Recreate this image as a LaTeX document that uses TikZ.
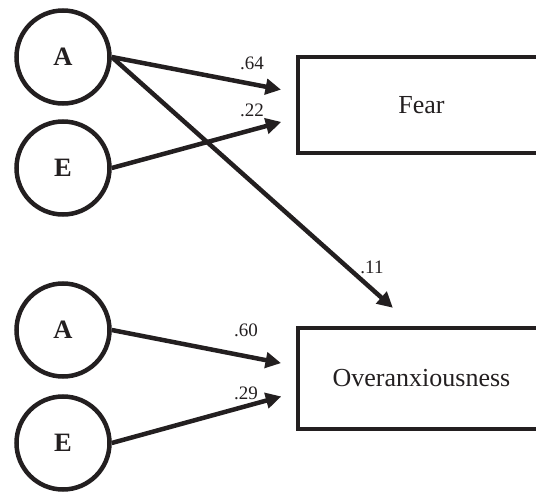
\documentclass[tikz,border=0pt]{standalone}
\usepackage{fontspec}
\setmainfont{Liberation Serif}
\usetikzlibrary{arrows.meta, calc}
\definecolor{ink}{HTML}{231F20}

\begin{document}
\begin{tikzpicture}[x=0.4pt, y=-0.4pt, line width=1.8pt, draw=ink, text=ink,
    latent/.style={draw, circle, minimum size=37.2pt, inner sep=0pt,
      font=\fontsize{10.6}{12}\selectfont\bfseries},
    outcome/.style={draw, rectangle, minimum width=98.8pt, inner sep=0pt,
      font=\fontsize{10.4}{12}\selectfont},
    effect/.style={-{Triangle[length=6.2pt, width=6.2pt]}, ink, shorten >=6pt},
    coef/.style={inner sep=0pt, font=\fontsize{7.6}{8}\selectfont}]
        \useasboundingbox (0,0) rectangle (536,494);
        \clip (0,0) rectangle (536,494);

        % Factors
        \node[latent] (a1) at (63,57) {A};
        \node[latent] (e1) at (63,168) {E};
        \node[latent] (a2) at (63,330) {A};
        \node[latent] (e2) at (63,443) {E};

        % Outcomes
        \node[outcome, minimum height=38.4pt] (fear) at (421.5,105) {Fear};
        \node[outcome, minimum height=40.4pt] (over) at (421.5,378.5) {Overanxiousness};

        % Paths
        \draw[effect] (a1.east) -- ($(fear.west)+(0,-12.5)$);
        \draw[effect] (e1.east) -- ($(fear.west)+(0,13)$);
        \draw[effect, shorten >=10.8pt] (a1.east) -- ($(over.north)+(-8.5,0)$);
        \draw[effect] (a2.east) -- ($(over.west)+(0,-12.5)$);
        \draw[effect] (e2.east) -- ($(over.west)+(0,14)$);

        % Coefficients
        \node[coef] (c64) at (252,63) {.64};
        \node[coef] (c22) at (252,110) {.22};
        \node[coef] (c11) at (372,267) {.11};
        \node[coef] (c60) at (246,330) {.60};
        \node[coef] (c29) at (246,393) {.29};
\end{tikzpicture}
\end{document}
